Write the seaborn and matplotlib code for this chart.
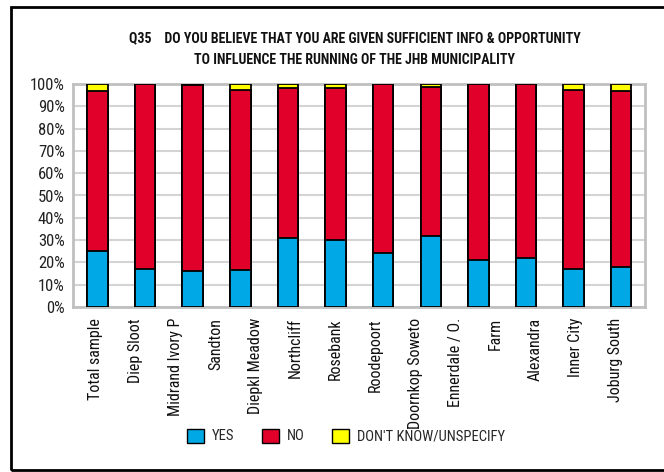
import numpy as np
import pandas as pd
import matplotlib
matplotlib.use("Agg")
import matplotlib.pyplot as plt
from matplotlib.patches import Patch, Rectangle
import seaborn as sns

# ---- data ----
tick_labels = ["Total sample", "Diep Sloot", "Midrand Ivory P", "Sandton", "Diepkl Meadow",
               "Northcliff", "Rosebank", "Roodepoort", "Doornkop Soweto", "Ennerdale / O.",
               "Farm", "Alexandra", "Inner City", "Joburg South"]
bar_ids = list(range(12))
yes = [25, 17, 16, 16.5, 31, 30, 24, 32, 21, 22, 17, 18]
no = [72, 83, 83.5, 81, 67, 68, 76, 66.5, 79, 78, 80.5, 79]
dont_know = [3, 0, 0.5, 2.5, 2, 2, 0, 1.5, 0, 0, 2.5, 3]
series_names = ["YES", "NO", "DON'T KNOW/UNSPECIFY"]
yticks = [0, 10, 20, 30, 40, 50, 60, 70, 80, 90, 100]

title_line1 = "Q35    DO YOU BELIEVE THAT YOU ARE GIVEN SUFFICIENT INFO & OPPORTUNITY"
title_line2 = "TO INFLUENCE THE RUNNING OF THE JHB MUNICIPALITY"

colors = {"YES": "#00A8E6", "NO": "#E0002A", "DON'T KNOW/UNSPECIFY": "#FFFF00"}

df = pd.DataFrame({"bar": bar_ids, "yes": yes, "no": no, "dk": dont_know})
df["c_yes"] = df["yes"]
df["c_no"] = df["yes"] + df["no"]
df["c_dk"] = df["yes"] + df["no"] + df["dk"]

sns.set_theme(style="white")
FONT = ["Roboto Condensed", "DejaVu Sans"]
plt.rcParams["font.family"] = FONT

fig = plt.figure(figsize=(6.64, 4.72), dpi=100)
ax = fig.add_axes([73 / 664, 1 - 307 / 472, (645 - 73) / 664, (307 - 84) / 472])

for col, name in [("c_dk", "DON'T KNOW/UNSPECIFY"), ("c_no", "NO"), ("c_yes", "YES")]:
    sns.barplot(data=df, x="bar", y=col, ax=ax, color=colors[name], saturation=1,
                width=0.43, edgecolor="black", linewidth=1.3, errorbar=None, zorder=3)

ax.set_ylim(0, 100)
ax.set_xlim(-0.515, 11.5)
ax.set_yticks(yticks)
ax.set_yticklabels([f"{v}%" for v in yticks], fontsize=12, color="#222222")
ax.yaxis.grid(True, color="#d4d4d4", linewidth=1.5, zorder=0)
ax.set_axisbelow(True)

tick_pos = np.linspace(-0.04, 10.87, len(tick_labels))
ax.set_xticks(tick_pos)
ax.set_xticklabels(tick_labels, rotation=90, fontsize=11.5, color="#111111",
                   va="top", ha="center")
ax.tick_params(axis="y", length=0, pad=6)
ax.tick_params(axis="x", length=0, pad=8)
ax.set_xlabel("")
ax.set_ylabel("")

for sp in ax.spines.values():
    sp.set_visible(True)
    sp.set_color("#c0c0c0")
    sp.set_linewidth(2)

fig.text(355 / 664, 1 - 38 / 472, title_line1, ha="center", va="center",
         fontsize=10, fontweight="bold", color="#111111")
fig.text(355 / 664, 1 - 60 / 472, title_line2, ha="center", va="center",
         fontsize=10, fontweight="bold", color="#111111")

handles = [Patch(facecolor=colors[n], edgecolor="black", linewidth=1.0, label=n)
           for n in series_names]
fig.legend(handles=handles, loc="center", bbox_to_anchor=(346 / 664, 1 - 436 / 472),
           ncol=3, frameon=False, fontsize=10.5, handlelength=1.15, handleheight=1.1,
           handletextpad=0.55, columnspacing=1.9)

fig.patches.append(Rectangle((11 / 664, 2 / 472), 1.2, (470 - 7) / 472,
                             transform=fig.transFigure, fill=False,
                             edgecolor="black", linewidth=2, clip_on=False))

fig.savefig("out.png", dpi=100)
